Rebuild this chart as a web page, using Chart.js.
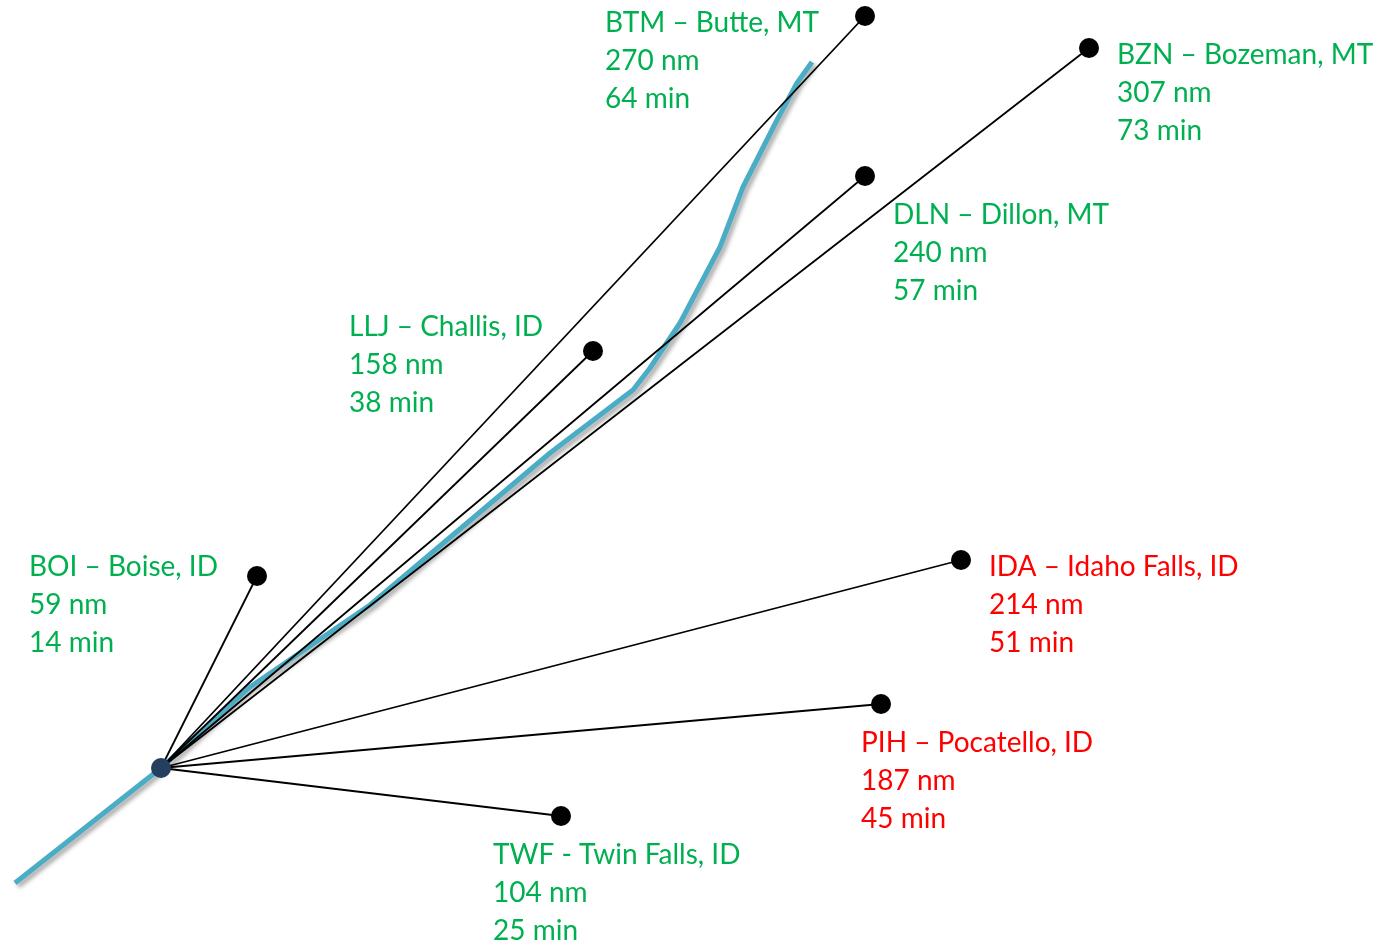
<!DOCTYPE html>
<html>
<head>
<meta charset="utf-8">
<script src="https://cdn.jsdelivr.net/npm/chart.js@4/dist/chart.umd.min.js"></script>
<style>
  html, body { margin: 0; padding: 0; background: #ffffff; }
  #wrap { width: 1393px; height: 947px; position: relative; }
</style>
</head>
<body>
<div id="wrap"><canvas id="c" width="1393" height="947"></canvas></div>
<script>
// ---- data (schematic map units) ----
const origin = { x: 161, y: 768 };
const codes = ["BOI", "BTM", "BZN", "DLN", "LLJ", "IDA", "PIH", "TWF"];
const cities = ["Boise, ID", "Butte, MT", "Bozeman, MT", "Dillon, MT", "Challis, ID", "Idaho Falls, ID", "Pocatello, ID", "Twin Falls, ID"];
const distancesNm = [59, 270, 307, 240, 158, 214, 187, 104];
const minutes = [14, 64, 73, 57, 38, 51, 45, 25];
const destX = [257, 865, 1089, 865, 593, 961, 881, 561];
const destY = [576, 16, 48, 176, 351, 560, 704, 816];
const reachable = [true, true, true, true, true, false, false, true];
const separators = ["–", "–", "–", "–", "–", "–", "–", "-"];
const routeX = [15, 161, 250, 370, 550, 633, 650, 680, 720, 743, 777, 797, 812];
const routeY = [883, 768, 687, 605, 453, 390, 368, 323, 247, 187, 120, 83, 62];

// ---- layout (label anchors, in the same map units) ----
const labelX = [29, 605, 1117, 893, 349, 989, 861, 493];
const labelY = [567, 23, 55, 215, 327, 567, 743, 855];
const lineGap = 38;

const GREEN = "#00B050", RED = "#FF0000";

const datasets = [];
datasets.push({
  label: "route",
  data: routeX.map((x, i) => ({ x, y: routeY[i] })),
  showLine: true, borderColor: "#4BACC6", borderWidth: 5,
  pointRadius: 0, tension: 0, borderCapStyle: "butt", borderJoinStyle: "round",
  order: 3
});
codes.forEach((c, i) => {
  datasets.push({
    label: "spoke-" + c,
    data: [{ x: origin.x, y: origin.y }, { x: destX[i], y: destY[i] }],
    showLine: true, borderColor: "#000000", borderWidth: 1.8,
    pointRadius: 0, order: 2
  });
});
datasets.push({
  label: "airports",
  data: destX.map((x, i) => ({ x, y: destY[i] })),
  pointRadius: 10, pointHoverRadius: 10, backgroundColor: "#000000", borderWidth: 0,
  showLine: false, order: 1
});
datasets.push({
  label: "origin",
  data: [{ x: origin.x, y: origin.y }],
  pointRadius: 10, pointHoverRadius: 10, backgroundColor: "#243F60", borderWidth: 0,
  showLine: false, order: 0
});

const shadowPlugin = {
  id: "routeShadow",
  beforeDatasetDraw(chart, args) {
    if (chart.data.datasets[args.index].label === "route") {
      const ctx = chart.ctx;
      ctx.save();
      ctx.shadowColor = "rgba(0,0,0,0.35)";
      ctx.shadowBlur = 4;
      ctx.shadowOffsetX = 3;
      ctx.shadowOffsetY = 3;
    }
  },
  afterDatasetDraw(chart, args) {
    if (chart.data.datasets[args.index].label === "route") chart.ctx.restore();
  }
};

const labelPlugin = {
  id: "labels",
  afterDatasetsDraw(chart) {
    const ctx = chart.ctx, xs = chart.scales.x, ys = chart.scales.y;
    ctx.save();
    ctx.font = "28px Lato, 'Open Sans', sans-serif";
    ctx.textBaseline = "middle";
    ctx.textAlign = "left";
    codes.forEach((c, i) => {
      ctx.fillStyle = reachable[i] ? GREEN : RED;
      const px = xs.getPixelForValue(labelX[i]);
      const py = ys.getPixelForValue(labelY[i]);
      const lines = [c + " " + separators[i] + " " + cities[i], distancesNm[i] + " nm", minutes[i] + " min"];
      lines.forEach((t, k) => ctx.fillText(t, px, py + k * lineGap));
    });
    ctx.restore();
  }
};

new Chart(document.getElementById("c"), {
  type: "scatter",
  data: { datasets },
  options: {
    responsive: false, animation: false,
    layout: { padding: 0, autoPadding: false },
    plugins: { legend: { display: false }, tooltip: { enabled: false } },
    scales: {
      x: { type: "linear", min: 0, max: 1393, display: false },
      y: { type: "linear", min: 0, max: 947, reverse: true, display: false }
    }
  },
  plugins: [shadowPlugin, labelPlugin]
});
</script>
</body>
</html>
